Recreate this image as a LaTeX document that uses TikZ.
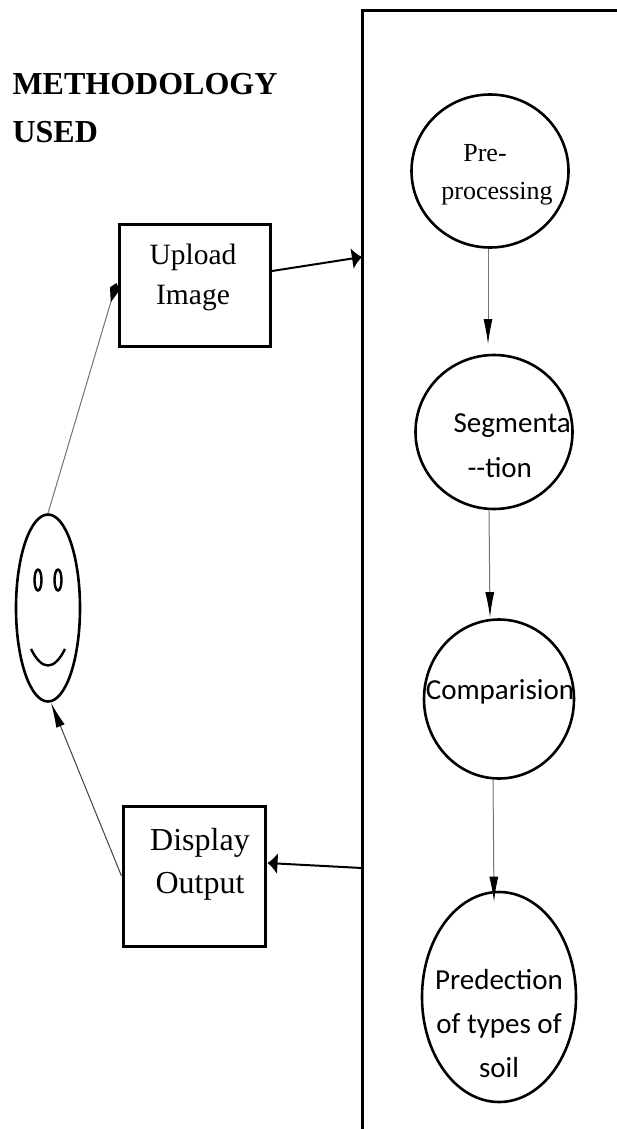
\documentclass[tikz,border=0pt]{standalone}
\usepackage{fontspec}
\setmainfont{Liberation Serif}
\newfontfamily\bodysans{Carlito}
\usetikzlibrary{arrows.meta,calc,shapes.geometric}
\tikzset{
	boxnode/.style={draw=black, line width=3pt, inner sep=0pt, align=center},
	stepnode/.style={draw=black, ellipse, line width=2.6pt, inner sep=0pt, align=center},
	eyenode/.style={draw=black, ellipse, line width=2.4pt, minimum width=7pt, minimum height=21pt, inner sep=0pt},
	thinarrow/.style={line width=1pt, color=black!55, -{Latex[length=25pt,width=9pt,color=black]}},
	thickarrow/.style={line width=2pt, -{Latex[length=10pt,width=22pt]}},
}
\begin{document}
\begin{tikzpicture}[x=1pt,y=-1pt]
		%%%%% START %%%%%
		\useasboundingbox (0, 0) rectangle (617, 1129);
		
		\node[anchor=west, align=left, font=\fontsize{32}{48}\selectfont\bfseries] (title) at (9, 108.5) {METHODOLOGY\\USED};
		
		\coordinate (frametl) at (362, 11);
		\coordinate (frametr) at (617, 11);
		\coordinate (framebl) at (362, 1129);
		\draw[line width=3pt] (frametr) -- (frametl) -- (framebl);
		
		\node[boxnode, minimum width=151pt, minimum height=122pt] (upload) at (195, 285) {};
		\node[font=\fontsize{29.5}{40}\selectfont, align=center] (uploadlabel) at (193, 277) {Upload\\Image};
		\node[boxnode, minimum width=142pt, minimum height=140pt] (display) at (194, 876) {};
		\node[font=\fontsize{32}{43}\selectfont, align=center] (displaylabel) at (200, 864) {Display\\Output};
		
		\node[stepnode, minimum width=64pt, minimum height=187pt] (user) at (48, 608) {};
		\node[eyenode] (lefteye) at (38, 580) {};
		\node[eyenode] (righteye) at (58, 580) {};
		\draw[line width=2.4pt] (31, 649) .. controls (42, 671) and (54, 671) .. (65, 649);
		
		\node[stepnode, minimum width=157pt, minimum height=153pt] (preproc) at (490, 171) {};
		\node[font=\fontsize{26}{40}\selectfont] (prelabel) at (485, 153) {Pre-};
		\node[font=\fontsize{26}{40}\selectfont] (proclabel) at (497, 194) {processing};
		\node[stepnode, minimum width=157pt, minimum height=154pt] (segment) at (494, 432) {};
		\node[font=\bodysans\fontsize{29}{34}\selectfont, anchor=west] (seglabel) at (450, 426) {Segmenta};
		\node[font=\bodysans\fontsize{29}{34}\selectfont, anchor=west] (seglabelb) at (464, 468) {--tion};
		\node[stepnode, minimum width=150pt, minimum height=159pt] (compare) at (499, 699) {};
		\node[font=\bodysans\fontsize{29}{34}\selectfont] (comparelabel) at (500, 692) {Comparision};
		\node[stepnode, minimum width=154pt, minimum height=210pt] (predict) at (499, 997) {};
		\node[font=\bodysans\fontsize{29}{44}\selectfont, align=center] (predictlabel) at (499, 1024) {Predection\\of types of\\soil};
		
		\draw[thinarrow, -{Kite[length=20pt,width=10pt,inset=14pt,color=black]}] (user.north) -- ($(upload.west)+(-1.5,-2)$);
		\draw[thickarrow] ($(upload.east)+(0,-14)$) -- (frametl |- 0, 257);
		\draw[thickarrow] (frametl |- 0, 868) -- ($(display.east)+(1,-13)$);
		\draw[thinarrow, color=black!75] (display.west) -- ($(user.south)+(3,0)$);
		
		\draw[thinarrow] ($(preproc.south)+(-2,0)$) -- ($(segment.north)+(-6,-9.5)$);
		\draw[thinarrow] ($(segment.south)+(-5,0)$) -- ($(compare.north)+(-9,-1)$);
		\draw[thinarrow] ($(compare.south)+(-6,0)$) -- ($(predict.north)+(-5,11)$);
		%%%%% END %%%%%
	\end{tikzpicture}
\end{document}
